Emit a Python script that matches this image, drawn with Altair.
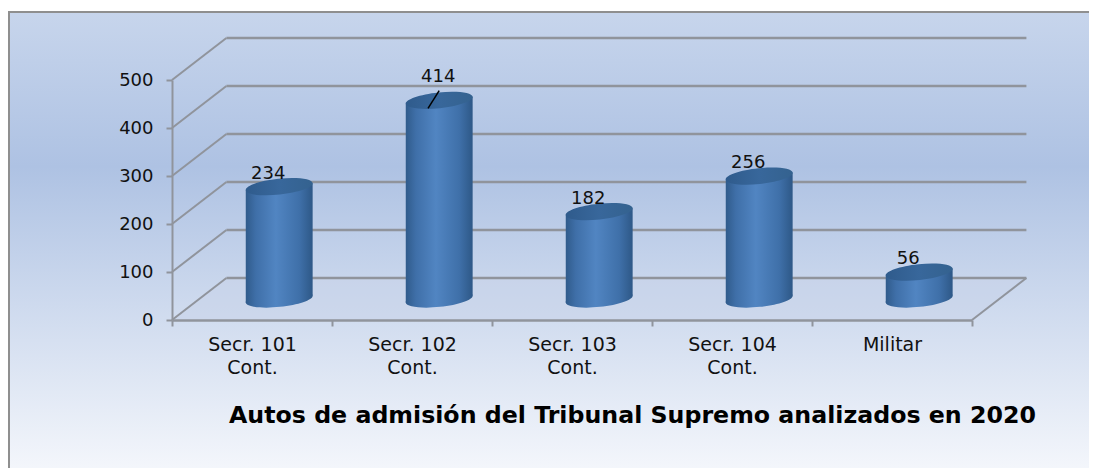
import altair as alt
import pandas as pd

categories = ["Secr. 101|Cont.", "Secr. 102|Cont.", "Secr. 103|Cont.", "Secr. 104|Cont.", "Militar"]
values = [234, 414, 182, 256, 56]
y_ticks = [0, 100, 200, 300, 400, 500]
title_text = "Autos de admisión del Tribunal Supremo analizados en 2020"

FONT = "DejaVu Sans"
GRID = "#90949c"
W, H = 800, 240
DX, DY = 0.34, 87.5        # depth of the floor in data units
CX, BASE = 0.67, 43.75     # cylinder centre in its band, and its base level
HALF, SKEW = 0.209, 7.3    # half-width and tilt of the cylinder

recs = pd.DataFrame({"cat": categories, "value": values})
recs["x"] = [i + CX for i in range(len(values))]
recs["base"] = BASE
recs["top"] = recs["value"] + BASE

body = pd.concat([
    pd.DataFrame({"cat": recs["cat"], "x": recs["x"] - HALF, "y": recs["top"] - SKEW, "y2": recs["base"] - SKEW}),
    pd.DataFrame({"cat": recs["cat"], "x": recs["x"] + HALF, "y": recs["top"] + SKEW, "y2": recs["base"] + SKEW}),
])

back = pd.DataFrame({"x": DX, "x2": 5 + DX, "y": [t + DY for t in y_ticks]})
back["y2"] = back["y"]
side = pd.DataFrame({"x": 0.0, "x2": DX, "y": y_ticks, "y2": [t + DY for t in y_ticks]})
right = pd.DataFrame({"x": [5.0], "x2": [5 + DX], "y": [0.0], "y2": [DY]})
floor = pd.DataFrame({"x": [0, DX, 5, 5 + DX], "y": [0, 0, 0, DY], "y2": [0, DY, DY, DY]})

xs = alt.Scale(domain=[0, 5], nice=False, zero=False)
ys = alt.Scale(domain=[0, 500], nice=False)
xq = alt.X("x:Q", scale=xs, axis=None)
yq = alt.Y("y:Q", scale=ys, axis=None)

panel_grad = alt.Gradient(gradient="linear", x1=0, y1=0, x2=0, y2=1, stops=[
    alt.GradientStop(offset=0, color="#c7d5ec"),
    alt.GradientStop(offset=0.33, color="#aec2e3"),
    alt.GradientStop(offset=1, color="#f6f8fc"),
])
body_grad = alt.Gradient(gradient="linear", x1=0, y1=0, x2=1, y2=0, stops=[
    alt.GradientStop(offset=0, color="#305b8b"),
    alt.GradientStop(offset=0.15, color="#3f6fa8"),
    alt.GradientStop(offset=0.45, color="#5185c2"),
    alt.GradientStop(offset=0.8, color="#3f70a9"),
    alt.GradientStop(offset=1, color="#2e5887"),
])
cap_grad = alt.Gradient(gradient="linear", x1=0, y1=0, x2=1, y2=0, stops=[
    alt.GradientStop(offset=0, color="#2f5b8c"),
    alt.GradientStop(offset=0.5, color="#38679b"),
    alt.GradientStop(offset=1, color="#34628f"),
])

ELLIPSE = "M-1,0.105 A1,0.235 -6 1 1 1,-0.105 A1,0.235 -6 1 1 -1,0.105 Z"
SIZE = 67 ** 2

panel = alt.Chart(pd.DataFrame({"a": [0]})).mark_rect(
    fill=panel_grad, stroke="#8f8f8f", strokeWidth=2
).encode(x=alt.value(-163), x2=alt.value(1000), y=alt.value(-68), y2=alt.value(400))

axis_layer = alt.Chart(recs).mark_rule(opacity=0).encode(
    x=alt.X("cat:N", sort=categories, title=None, axis=alt.Axis(
        labelAngle=0, tickBand="extent", labelExpr="split(datum.label, '|')",
        labelFont=FONT, labelFontSize=19, labelColor="#111111", labelLineHeight=23,
        labelPadding=9, labelBaseline="top", tickColor=GRID, tickSize=6, tickWidth=2,
        domainColor=GRID, domainWidth=2.5, grid=False, labelLimit=200, zindex=1)),
    y=alt.Y("value:Q", scale=ys, title=None, axis=alt.Axis(
        values=y_ticks, labelFont=FONT, labelFontSize=18, labelColor="#111111",
        labelPadding=13, tickColor=GRID, tickSize=6, tickWidth=2,
        domainColor=GRID, domainWidth=2, grid=False, zindex=1)),
)

floor_layer = alt.Chart(floor).mark_area(fill="#c9d3ea", opacity=0.55).encode(x=xq, y=yq, y2="y2:Q")


def rules(df, width):
    return alt.Chart(df).mark_rule(color=GRID, strokeWidth=width).encode(x=xq, x2="x2:Q", y=yq, y2="y2:Q")


bottoms = alt.Chart(recs).mark_point(
    shape=ELLIPSE, size=SIZE, filled=True, fill=body_grad, opacity=1, strokeWidth=0
).encode(x=xq, y=alt.Y("base:Q", scale=ys, axis=None))
bodies = alt.Chart(body).mark_area(fill=body_grad, opacity=1).encode(x=xq, y=yq, y2="y2:Q", detail="cat:N")
caps = alt.Chart(recs).mark_point(
    shape=ELLIPSE, size=SIZE, filled=True, fill=cap_grad, opacity=1, strokeWidth=0
).encode(x=xq, y=alt.Y("top:Q", scale=ys, axis=None))

label_common = dict(font=FONT, fontSize=18, color="#111111", baseline="alphabetic", align="center")
enc = dict(x=xq, y=alt.Y("top:Q", scale=ys, axis=None), text="value:Q")
labels = alt.Chart(recs).transform_filter("datum.value != 414").mark_text(dx=-11, dy=-8, **label_common).encode(**enc)
label_big = alt.Chart(recs).transform_filter("datum.value == 414").mark_text(dx=-1, dy=-18, **label_common).encode(**enc)

leader_df = recs[recs["value"] == 414].copy()
leader_df["y"] = leader_df["top"] + 20
leader_df["y2"] = leader_df["top"] - 17
leader_df["x2"] = leader_df["x"] - 0.07
leader = alt.Chart(leader_df).mark_rule(color="#000000", strokeWidth=1.5).encode(x=xq, x2="x2:Q", y=yq, y2="y2:Q")

title_mark = alt.Chart(pd.DataFrame({"t": [title_text]})).mark_text(
    font=FONT, fontSize=23.7, fontWeight="bold", color="#000000", align="left", baseline="alphabetic"
).encode(x=alt.value(57), y=alt.value(343), text="t:N")

chart = alt.layer(
    axis_layer, panel, floor_layer, rules(side, 2), rules(back, 2.5), rules(right, 2),
    bottoms, bodies, caps, labels, label_big, leader, title_mark,
).resolve_scale(x="independent").resolve_axis(y="independent").properties(
    width=W, height=H,
    autosize=alt.AutoSizeParams(type="none"),
    padding={"left": 164, "top": 72, "right": 117, "bottom": 148},
).configure_view(stroke=None)

chart.save("out.html", embed_options={"renderer": "svg", "actions": False})
